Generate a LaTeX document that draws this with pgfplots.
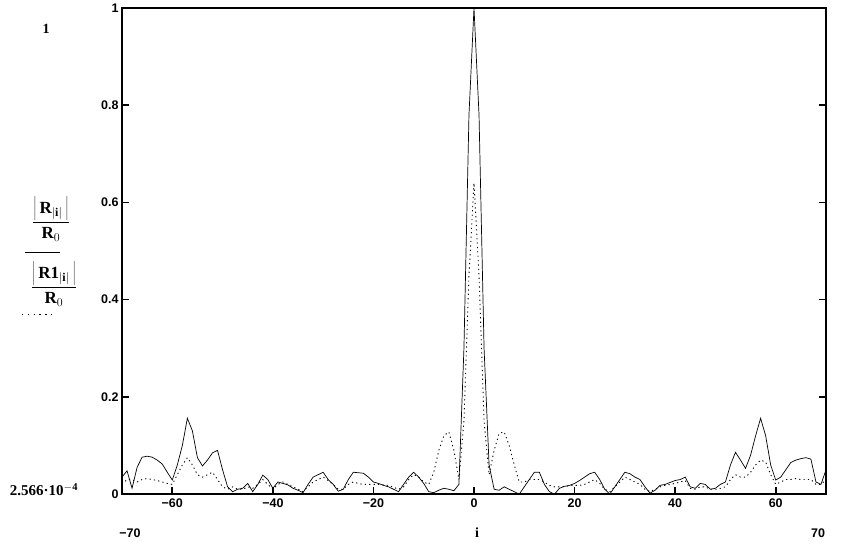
\documentclass[border=0pt]{standalone}
\usepackage{pgfplots}
\pgfplotsset{compat=1.18}
\usepackage{pgfplotstable}
\usepackage{fontspec}
\setmainfont{Liberation Serif}
\newfontfamily\sansb{Liberation Sans}
\pgfplotstableread{
i R R1
-70 0.035 0.02
-69 0.048 0.03
-68 0.012 0.03
-67 0.055 0.025
-66 0.076 0.03
-65 0.078 0.032
-64 0.076 0.03
-63 0.07 0.028
-62 0.062 0.025
-61 0.045 0.022
-60 0.029 0.02
-59 0.06 0.04
-58 0.1 0.06
-57 0.156 0.075
-56 0.13 0.06
-55 0.075 0.04
-54 0.058 0.035
-53 0.07 0.04
-52 0.085 0.045
-51 0.09 0.03
-50 0.05 0.015
-49 0.015 0.01
-48 0.005 0.015
-47 0.01 0.01
-46 0.012 0.01
-45 0.022 0.015
-44 0.005 0.012
-43 0.02 0.02
-42 0.039 0.03
-41 0.03 0.02
-40 0.012 0.01
-39 0.025 0.02
-38 0.022 0.025
-37 0.019 0.02
-36 0.012 0.015
-35 0.008 0.01
-34 0.003 0.005
-33 0.02 0.015
-32 0.035 0.025
-31 0.04 0.03
-30 0.045 0.035
-29 0.03 0.028
-28 0.02 0.02
-27 0.006 0.01
-26 0.01 0.01
-25 0.03 0.02
-24 0.045 0.025
-23 0.044 0.022
-22 0.043 0.02
-21 0.035 0.02
-20 0.025 0.02
-19 0.022 0.02
-18 0.018 0.019
-17 0.015 0.018
-16 0.01 0.014
-15 0.005 0.01
-14 0.02 0.015
-13 0.035 0.03
-12 0.045 0.04
-11 0.035 0.035
-10 0.022 0.025
-9 0.005 0.02
-8 0.003 0.045
-7 0.008 0.09
-6 0.012 0.12
-5 0.01 0.128
-4 0.007 0.09
-3 0.02 0.03
-2 0.3 0.15
-1 0.78 0.45
0 1.0 0.64
1 0.78 0.45
2 0.3 0.15
3 0.06 0.04
4 0.01 0.09
5 0.008 0.125
6 0.015 0.128
7 0.01 0.1
8 0.005 0.06
9 0.0 0.025
10 0.015 0.025
11 0.03 0.03
12 0.045 0.03
13 0.045 0.03
14 0.02 0.025
15 0.005 0.018
16 0.0 0.015
17 0.012 0.015
18 0.016 0.016
19 0.018 0.017
20 0.022 0.018
21 0.028 0.018
22 0.035 0.02
23 0.042 0.025
24 0.045 0.03
25 0.03 0.022
26 0.01 0.01
27 0.0 0.005
28 0.015 0.015
29 0.03 0.025
30 0.045 0.035
31 0.042 0.03
32 0.035 0.025
33 0.03 0.02
34 0.015 0.01
35 0.002 0.005
36 0.008 0.01
37 0.018 0.015
38 0.02 0.018
39 0.024 0.02
40 0.028 0.022
41 0.03 0.025
42 0.035 0.028
43 0.015 0.012
44 0.012 0.01
45 0.022 0.015
46 0.02 0.015
47 0.01 0.01
48 0.012 0.01
49 0.02 0.012
50 0.025 0.015
51 0.06 0.03
52 0.086 0.04
53 0.07 0.035
54 0.053 0.035
55 0.08 0.045
56 0.12 0.06
57 0.156 0.07
58 0.12 0.066
59 0.06 0.04
60 0.029 0.02
61 0.035 0.025
62 0.05 0.03
63 0.065 0.03
64 0.07 0.032
65 0.073 0.03
66 0.075 0.03
67 0.072 0.03
68 0.025 0.02
69 0.02 0.02
70 0.05 0.03
}\data
\begin{document}
\begin{tikzpicture}[x=1pt,y=1pt]
\path[use as bounding box] (0,0) rectangle (852,555);
\begin{axis}[
  anchor=south west, at={(122pt,61pt)},
  width=704pt, height=486pt, scale only axis,
  xmin=-70, xmax=70, ymin=0.0002566, ymax=1,
  axis line style={line width=1.6pt},
  tick align=inside,
  xtick pos=left, ytick pos=both,
  major tick length=7pt,
  tick style={line width=1.6pt, black},
  xtick={-60,-40,-20,0,20,40,60},
  xticklabels={−60,−40,−20,0,20,40,60},
  ytick={0.0002566,0.2,0.4,0.6,0.8,1},
  yticklabels={0,0.2,0.4,0.6,0.8,1},
  ticklabel style={font=\sansb\bfseries\fontsize{12.5}{14}\selectfont},
  xticklabel style={yshift=-1pt},
  clip=true,
]
\addplot[black, line width=0.7pt] table[x=i, y=R] {\data};
\addplot[black, line width=0.9pt, dash pattern=on 1.2pt off 3.2pt] table[x=i, y=R1] {\data};
\end{axis}
\node[font=\fontsize{17}{19}\selectfont, inner sep=0pt] at (51,336) {$\displaystyle\frac{\left|\,\mathbf{R}_{|\mathbf{i}|}\,\right|}{\mathbf{R}_0}$};
\draw[black, line width=0.5pt] (25,303) -- (60,303);
\node[font=\fontsize{17}{19}\selectfont, inner sep=0pt] at (54,271) {$\displaystyle\frac{\left|\,\mathbf{R1}_{|\mathbf{i}|}\,\right|}{\mathbf{R}_0}$};
\draw[black, line width=0.9pt, dash pattern=on 1.3pt off 4.5pt] (22,241) -- (56,241);
\node[font=\bfseries\fontsize{15}{17}\selectfont] at (44,65) {2.566·10$^{\mathbf{-4}}$};
\node[font=\bfseries\fontsize{14}{16}\selectfont] at (46,526) {1};
\node[font=\sansb\bfseries\fontsize{12.5}{14}\selectfont] at (130,22) {−70};
\node[font=\sansb\bfseries\fontsize{12.5}{14}\selectfont] at (818,22) {70};
\node[font=\bfseries\fontsize{14}{16}\selectfont] at (477,22) {i};
\end{tikzpicture}
\end{document}
